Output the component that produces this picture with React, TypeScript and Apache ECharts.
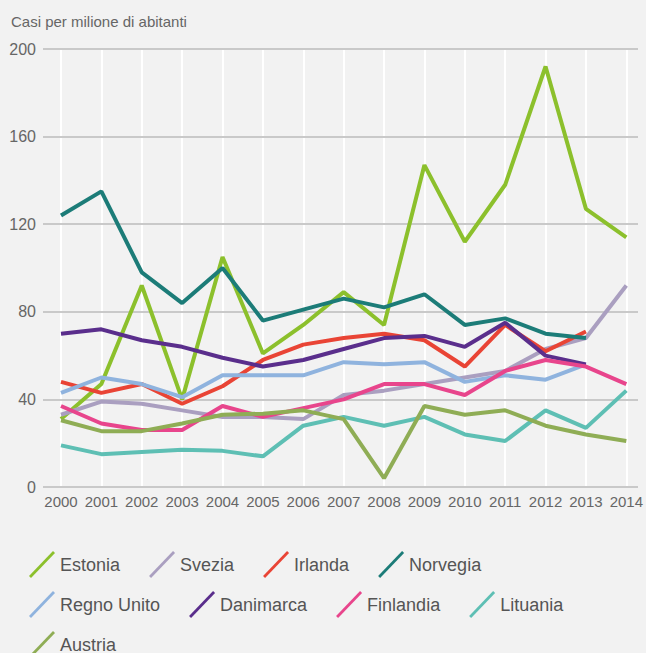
import React, { useEffect, useRef } from 'react';
import * as echarts from 'echarts';

const years = ['2000', '2001', '2002', '2003', '2004', '2005', '2006', '2007', '2008', '2009', '2010', '2011', '2012', '2013', '2014'];

const estonia = [31, 47, 92, 40, 105, 61, 74, 89, 74, 147, 112, 138, 192, 127, 114];
const svezia = [33, 39, 38, 35, 32, 32, 31, 42, 44, 47, 50, 53, 63, 68, 92];
const irlanda = [48, 43, 47, 38, 46, 58, 65, 68, 70, 67, 55, 74, 62, 71, null];
const norvegia = [124, 135, 98, 84, 100, 76, 81, 86, 82, 88, 74, 77, 70, 68, null];
const regnoUnito = [43, 50, 47, 41, 51, 51, 51, 57, 56, 57, 48, 51, 49, 56, null];
const danimarca = [70, 72, 67, 64, 59, 55, 58, 63, 68, 69, 64, 75, 60, 56, null];
const finlandia = [37, 29, 26, 26, 37, 32, 36, 40, 47, 47, 42, 53, 58, 55, 47];
const lituania = [19, 15, 16, 17, 16.5, 14, 28, 32, 28, 32, 24, 21, 35, 27, 44];
const austria = [30.5, 25.5, 25.5, 29, 33, 33.5, 35, 31, 4, 37, 33, 35, 28, 24, 21];

const seriesDefs = [
  { name: 'Estonia', data: estonia, color: '#8cc02c' },
  { name: 'Svezia', data: svezia, color: '#aa9fc0' },
  { name: 'Irlanda', data: irlanda, color: '#e94435' },
  { name: 'Norvegia', data: norvegia, color: '#1c7c78' },
  { name: 'Regno Unito', data: regnoUnito, color: '#8fb3de' },
  { name: 'Danimarca', data: danimarca, color: '#5a2e8c' },
  { name: 'Finlandia', data: finlandia, color: '#e8458c' },
  { name: 'Lituania', data: lituania, color: '#5ebfb4' },
  { name: 'Austria', data: austria, color: '#8fad55' },
];

const legendRows = [
  ['Estonia', 'Svezia', 'Irlanda', 'Norvegia'],
  ['Regno Unito', 'Danimarca', 'Finlandia', 'Lituania'],
  ['Austria'],
];

const FONT = '"Liberation Sans", Arial, sans-serif';
const ICON = 'path://M0,25 L24,0 L26,2 L2,27 Z';

export default function App() {
  const ref = useRef<HTMLDivElement>(null);
  useEffect(() => {
    document.body.style.margin = '0';
    const chart = echarts.init(ref.current!, null, { renderer: 'svg' });
    const option: any = {
      animation: false,
      backgroundColor: '#f2f2f2',
      textStyle: { fontFamily: FONT },
      title: {
        text: 'Casi per milione di abitanti',
        left: 6,
        top: 9,
        textStyle: { fontSize: 15, fontWeight: 'normal', color: '#666', fontFamily: FONT },
      },
      grid: [
        { left: 43, right: 8, top: 49, bottom: 166 },
        { left: 61, right: 19, top: 49, bottom: 166 },
      ],
      xAxis: [
        { type: 'value', gridIndex: 0, show: false, min: 0, max: 1 },
        {
          type: 'category',
          gridIndex: 1,
          data: years,
          boundaryGap: false,
          z: 0,
          axisLine: { show: false },
          axisTick: { show: false },
          axisLabel: { color: '#666', fontSize: 15, margin: 7, interval: 0, fontFamily: FONT },
          splitLine: { show: true, interval: 0, lineStyle: { color: '#ffffff', width: 2 } },
        },
      ],
      yAxis: [
        {
          type: 'value',
          gridIndex: 0,
          min: 0,
          max: 200,
          interval: 40,
          z: 1,
          axisLine: { show: false },
          axisTick: { show: false },
          axisLabel: { color: '#666', fontSize: 16, margin: 7, fontFamily: FONT },
          splitLine: { show: true, lineStyle: { color: '#c9c9c9', width: 2 } },
        },
        {
          type: 'value',
          gridIndex: 1,
          min: 0,
          max: 200,
          interval: 40,
          show: false,
          splitLine: { show: false },
        },
      ],
      legend: legendRows.map((row, i) => ({
        data: row,
        left: 24,
        top: 546 + i * 40,
        orient: 'horizontal',
        icon: ICON,
        itemWidth: 26,
        itemHeight: 27,
        itemGap: 29,
        selectedMode: false,
        textStyle: { color: '#555', fontSize: 18, fontFamily: FONT },
      })),
      series: seriesDefs.map((s) => ({
        name: s.name,
        type: 'line',
        xAxisIndex: 1,
        yAxisIndex: 1,
        data: s.data,
        symbol: 'none',
        color: s.color,
        lineStyle: { color: s.color, width: 4 },
        itemStyle: { color: s.color },
        z: 3,
      })),
    };
    chart.setOption(option);
    return () => chart.dispose();
  }, []);
  return <div ref={ref} style={{ width: 646, height: 653 }} />;
}
